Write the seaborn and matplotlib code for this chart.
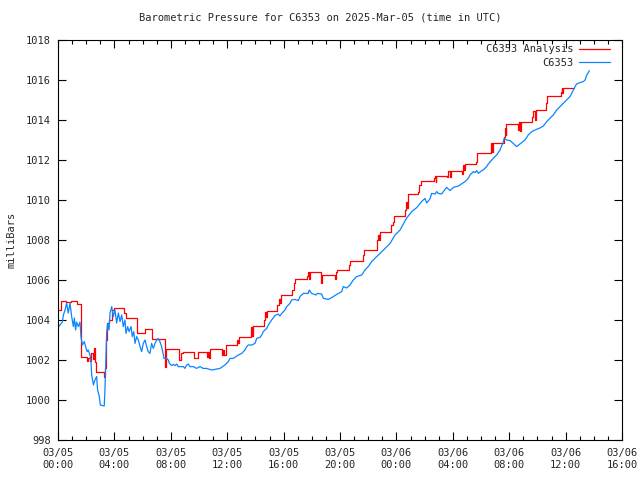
import pandas as pd
import matplotlib
matplotlib.use("Agg")
import matplotlib.pyplot as plt
import matplotlib.dates as mdates
import seaborn as sns

# ----------------------------------------------------
# Data (hours after 2025-03-05 00:00 UTC, pressure in mb)
# ----------------------------------------------------
START = pd.Timestamp("2025-03-05 00:00")

obs_hours = [
    0.02, 0.14, 0.31, 0.38, 0.5, 0.61, 0.73, 0.85, 0.97, 1.09,
    1.16, 1.25, 1.32, 1.44, 1.56, 1.63, 1.73, 1.87, 1.96, 2.06,
    2.15, 2.27, 2.34, 2.39, 2.51, 2.58, 2.67, 2.74, 2.81, 2.93,
    3.0, 3.28, 3.33, 3.38, 3.45, 3.52, 3.62, 3.69, 3.81, 3.92,
    4.04, 4.16, 4.28, 4.4, 4.52, 4.63, 4.75, 4.82, 4.94, 5.04,
    5.18, 5.27, 5.37, 5.46, 5.58, 5.7, 5.82, 5.93, 6.05, 6.17,
    6.29, 6.4, 6.52, 6.64, 6.76, 6.88, 7.0, 7.11, 7.23, 7.35,
    7.42, 7.52, 7.71, 7.82, 7.9, 8.06, 8.18, 8.3, 8.42, 8.53,
    8.89, 9.0, 9.13, 9.24, 9.36, 9.6, 9.83, 10.07, 10.3, 10.54,
    10.78, 10.9, 11.13, 11.49, 11.68, 11.84, 12.08, 12.2, 12.43, 12.62,
    12.79, 13.03, 13.26, 13.38, 13.5, 13.74, 13.97, 14.09, 14.33, 14.45,
    14.56, 14.8, 14.92, 15.15, 15.39, 15.62, 15.74, 15.87, 16.1, 16.22,
    16.45, 16.57, 16.81, 17.04, 17.16, 17.4, 17.75, 17.82, 17.99, 18.3,
    18.39, 18.7, 18.82, 19.17, 19.41, 19.77, 20.12, 20.23, 20.47, 20.71,
    20.94, 21.18, 21.54, 21.77, 22.0, 22.25, 22.6, 22.84, 23.19, 23.55,
    23.9, 24.26, 24.49, 24.73, 25.09, 25.44, 25.79, 26.03, 26.15, 26.38,
    26.5, 26.74, 26.86, 26.97, 27.21, 27.33, 27.45, 27.57, 27.8, 28.04,
    28.39, 28.51, 28.75, 28.87, 29.1, 29.22, 29.46, 29.57, 29.69, 29.81,
    30.05, 30.16, 30.4, 30.52, 30.76, 30.87, 31.11, 31.35, 31.58, 31.65,
    31.82, 32.06, 32.29, 32.53, 32.89, 33.12, 33.35, 33.6, 33.83, 34.18,
    34.42, 34.66, 34.77, 35.01, 35.13, 35.37, 35.48, 35.72, 35.96, 36.31,
    36.43, 36.67, 36.78, 37.02, 37.26, 37.38, 37.5, 37.61, 37.68,
]
obs_mb = [
    1003.63, 1003.75, 1003.9, 1004.25, 1004.5, 1004.85, 1004.35, 1004.85, 1004.17, 1003.67,
    1004.1, 1003.5, 1003.9, 1003.67, 1003.9, 1003.17, 1002.75, 1002.92, 1002.67, 1002.42,
    1002.5, 1002.25, 1001.92, 1001.25, 1000.75, 1000.92, 1001.08, 1001.17, 1000.5, 1000.17,
    999.75, 999.7, 1000.5, 1001.67, 1003.33, 1003.83, 1003.5, 1004.35, 1004.67, 1004.17,
    1004.5, 1003.85, 1004.35, 1003.92, 1004.25, 1003.67, 1004.0, 1003.33, 1003.67, 1003.42,
    1003.67, 1003.17, 1003.42, 1002.83, 1003.17, 1003.0, 1002.67, 1002.42, 1002.83, 1003.0,
    1002.67, 1002.42, 1002.33, 1002.83, 1002.58, 1002.83, 1003.0, 1003.08, 1002.92, 1002.67,
    1002.42, 1002.08, 1002.08, 1002.0, 1001.83, 1001.72, 1001.78, 1001.72, 1001.8, 1001.67,
    1001.67, 1001.58, 1001.75, 1001.8, 1001.67, 1001.67, 1001.58, 1001.67, 1001.58, 1001.58,
    1001.53, 1001.5, 1001.53, 1001.58, 1001.67, 1001.75, 1001.92, 1002.08, 1002.08, 1002.17,
    1002.25, 1002.33, 1002.5, 1002.67, 1002.75, 1002.75, 1002.83, 1003.08, 1003.13, 1003.25,
    1003.42, 1003.58, 1003.75, 1004.0, 1004.22, 1004.3, 1004.2, 1004.33, 1004.5, 1004.67,
    1004.83, 1005.0, 1005.03, 1004.97, 1005.17, 1005.33, 1005.33, 1005.5, 1005.33, 1005.25,
    1005.33, 1005.3, 1005.08, 1005.03, 1005.12, 1005.28, 1005.42, 1005.67, 1005.6, 1005.75,
    1006.0, 1006.17, 1006.25, 1006.5, 1006.67, 1006.92, 1007.17, 1007.33, 1007.58, 1007.83,
    1008.25, 1008.5, 1008.8, 1009.1, 1009.42, 1009.62, 1009.92, 1010.08, 1009.85, 1010.05,
    1010.33, 1010.3, 1010.42, 1010.33, 1010.3, 1010.42, 1010.53, 1010.63, 1010.47, 1010.63,
    1010.7, 1010.75, 1010.87, 1010.92, 1011.08, 1011.25, 1011.42, 1011.37, 1011.47, 1011.33,
    1011.47, 1011.5, 1011.67, 1011.8, 1012.0, 1012.08, 1012.25, 1012.5, 1012.92, 1013.08,
    1013.0, 1012.97, 1012.83, 1012.67, 1012.87, 1013.0, 1013.25, 1013.42, 1013.5, 1013.6,
    1013.7, 1013.92, 1014.0, 1014.17, 1014.25, 1014.5, 1014.58, 1014.75, 1014.92, 1015.17,
    1015.33, 1015.67, 1015.8, 1015.87, 1015.92, 1016.0, 1016.25, 1016.37, 1016.47,
]

# analysis is a stepped series (value holds until the next time)
ana_hours = [
    0.0, 0.2, 0.6, 0.95, 1.38, 1.63, 2.05, 2.12, 2.3, 2.36,
    2.45, 2.55, 2.62, 2.7, 3.25, 3.3, 3.4, 3.5, 3.65, 3.85,
    3.95, 4.65, 4.8, 5.6, 6.2, 6.65, 7.62, 7.68, 8.6, 8.7,
    8.85, 9.65, 9.95, 10.59, 10.65, 10.7, 10.8, 11.65, 11.72, 11.8,
    11.9, 12.67, 12.74, 12.82, 13.66, 13.72, 13.79, 13.85, 14.6, 14.68,
    14.74, 14.8, 15.55, 15.68, 15.74, 15.79, 16.62, 16.72, 16.8, 17.68,
    17.75, 17.81, 17.87, 18.62, 18.72, 19.62, 19.7, 19.78, 20.63, 20.72,
    21.62, 21.72, 22.65, 22.72, 22.8, 22.87, 23.62, 23.75, 23.85, 24.6,
    24.66, 24.74, 24.82, 25.55, 25.62, 25.75, 26.65, 26.72, 26.78, 26.84,
    27.57, 27.64, 27.77, 27.84, 28.62, 28.7, 28.78, 28.85, 29.65, 29.75,
    30.68, 30.74, 30.8, 30.86, 31.62, 31.68, 31.75, 31.8, 32.63, 32.7,
    32.78, 32.84, 33.65, 33.7, 33.8, 33.87, 34.6, 34.68, 35.66, 35.71,
    35.77, 35.83, 36.6,
]
ana_mb = [
    1004.5, 1004.95, 1004.88, 1004.95, 1004.8, 1002.15, 1001.95, 1002.1, 1001.95, 1002.33,
    1002.05, 1002.62, 1001.92, 1001.38, 1001.15, 1001.6, 1003.0, 1003.83, 1004.0, 1004.5,
    1004.58, 1004.33, 1004.1, 1003.33, 1003.53, 1003.03, 1001.67, 1002.53, 1002.0, 1002.33,
    1002.42, 1002.08, 1002.42, 1002.17, 1002.42, 1002.08, 1002.53, 1002.25, 1002.5, 1002.25,
    1002.75, 1003.0, 1002.83, 1003.15, 1003.42, 1003.67, 1003.2, 1003.7, 1004.0, 1004.42,
    1004.17, 1004.47, 1004.75, 1005.03, 1004.83, 1005.25, 1005.5, 1005.83, 1006.03, 1006.2,
    1006.42, 1006.03, 1006.4, 1005.83, 1006.25, 1006.03, 1006.42, 1006.5, 1006.75, 1006.95,
    1007.25, 1007.5, 1008.0, 1008.25, 1008.0, 1008.42, 1008.75, 1008.92, 1009.2, 1009.5,
    1009.92, 1009.58, 1010.28, 1010.42, 1010.75, 1010.95, 1011.1, 1011.2, 1010.92, 1011.22,
    1011.13, 1011.47, 1011.17, 1011.47, 1011.3, 1011.75, 1011.5, 1011.8, 1011.92, 1012.37,
    1012.67, 1012.87, 1012.42, 1012.87, 1013.17, 1013.58, 1013.25, 1013.78, 1013.5, 1013.92,
    1013.45, 1013.92, 1014.17, 1014.47, 1014.0, 1014.5, 1014.83, 1015.2, 1015.42, 1015.62,
    1015.33, 1015.58, 1015.58,
]

y_ticks = list(range(998, 1019, 2))

TITLE = "Barometric Pressure for C6353 on 2025-Mar-05 (time in UTC)"
FONT_SIZE = 7.5


def to_frame(hours, values):
    return pd.DataFrame({
        "time": START + pd.to_timedelta(hours, unit="h"),
        "mb": values,
    })


def main():
    obs_df = to_frame(obs_hours, obs_mb)
    ana_df = to_frame(ana_hours, ana_mb)

    sns.set_style("ticks")
    plt.rcParams["font.family"] = ["DejaVu Sans Mono"]

    fig = plt.figure(figsize=(6.4, 4.8), dpi=100)
    ax = fig.add_axes([58 / 640, 40 / 480, 564 / 640, 400 / 480])

    sns.lineplot(data=ana_df, x="time", y="mb", ax=ax, color="#ff0000",
                 linewidth=0.9, drawstyle="steps-post", estimator=None,
                 sort=False, label="C6353 Analysis")
    sns.lineplot(data=obs_df, x="time", y="mb", ax=ax, color="#0a84ff",
                 linewidth=0.9, estimator=None, sort=False, label="C6353")

    ax.set_xlim(START, START + pd.Timedelta(hours=40))
    ax.set_ylim(998, 1018)
    ax.set_yticks(y_ticks)

    ax.xaxis.set_major_locator(mdates.HourLocator(byhour=range(0, 24, 4)))
    ax.xaxis.set_minor_locator(mdates.HourLocator())
    ax.xaxis.set_major_formatter(mdates.DateFormatter("%m/%d\n%H:%M"))

    ax.tick_params(which="both", direction="in", top=True, right=True,
                   color="black", width=0.8, labelsize=FONT_SIZE)
    ax.tick_params(which="major", length=6)
    ax.tick_params(which="minor", length=3)
    ax.tick_params(axis="x", pad=6)
    ax.tick_params(axis="y", pad=5)
    for spine in ax.spines.values():
        spine.set_linewidth(0.8)
        spine.set_color("black")

    ax.set_xlabel("")
    ax.set_ylabel("milliBars", fontsize=FONT_SIZE, labelpad=7)

    fig.text(0.5, 1 - 18 / 480, TITLE, ha="center", va="center",
             fontsize=FONT_SIZE)

    ax.legend(loc="upper right", bbox_to_anchor=(1 - 8 / 564, 1.0),
              frameon=False, markerfirst=False, handlelength=3.0,
              fontsize=FONT_SIZE, borderaxespad=0.0, labelspacing=0.35,
              handletextpad=0.5)

    fig.savefig("out.png", dpi=100)
    plt.close(fig)


if __name__ == "__main__":
    main()
